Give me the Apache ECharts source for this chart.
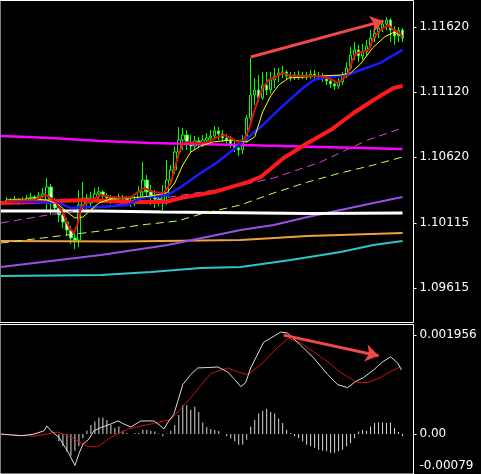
<!DOCTYPE html>
<html>
<head>
<meta charset="utf-8">
<title>EURUSD</title>
<script src="https://cdn.jsdelivr.net/npm/echarts@6/dist/echarts.min.js"></script>
<style>
  html, body { margin: 0; padding: 0; background: #000; }
  #chart { width: 481px; height: 474px; }
</style>
</head>
<body>
<div id="chart"></div>
<script>
// bars 0..99, one per candle
const open = [1.10275,1.10290,1.10282,1.10298,1.10275,1.10290,1.10305,1.10313,1.10298,1.10321,
  1.10290,1.10390,1.10267,1.10229,1.10175,1.10121,1.10059,1.09998,1.09982,1.10252,
  1.10305,1.10267,1.10305,1.10336,1.10352,1.10321,1.10305,1.10290,1.10298,1.10313,
  1.10298,1.10282,1.10267,1.10290,1.10352,1.10444,1.10352,1.10321,1.10298,1.10290,
  1.10321,1.10444,1.10521,1.10659,1.10751,1.10790,1.10736,1.10705,1.10744,1.10728,
  1.10751,1.10767,1.10782,1.10821,1.10798,1.10767,1.10751,1.10721,1.10690,1.10675,
  1.10751,1.10921,1.11097,1.11136,1.11074,1.11174,1.11136,1.11213,1.11244,1.11267,
  1.11274,1.11244,1.11236,1.11251,1.11236,1.11251,1.11236,1.11259,1.11244,1.11236,
  1.11221,1.11205,1.11182,1.11167,1.11197,1.11244,1.11305,1.11405,1.11444,1.11397,
  1.11428,1.11474,1.11536,1.11574,1.11613,1.11643,1.11674,1.11597,1.11551,1.11597];
const close = [1.10290,1.10282,1.10298,1.10275,1.10290,1.10305,1.10313,1.10298,1.10321,1.10336,
  1.10390,1.10267,1.10229,1.10175,1.10121,1.10059,1.09998,1.09982,1.10252,1.10305,
  1.10267,1.10305,1.10336,1.10352,1.10321,1.10305,1.10290,1.10298,1.10313,1.10298,
  1.10282,1.10267,1.10290,1.10352,1.10444,1.10352,1.10321,1.10298,1.10290,1.10321,
  1.10444,1.10521,1.10659,1.10751,1.10790,1.10736,1.10705,1.10744,1.10728,1.10751,
  1.10767,1.10782,1.10821,1.10798,1.10767,1.10751,1.10721,1.10690,1.10675,1.10751,
  1.10921,1.11097,1.11136,1.11074,1.11174,1.11136,1.11213,1.11244,1.11267,1.11274,
  1.11244,1.11236,1.11251,1.11236,1.11251,1.11236,1.11259,1.11244,1.11236,1.11221,
  1.11205,1.11182,1.11167,1.11197,1.11244,1.11305,1.11405,1.11444,1.11397,1.11428,
  1.11474,1.11536,1.11574,1.11613,1.11643,1.11674,1.11597,1.11551,1.11597,1.11536];
const high = [1.10313,1.10305,1.10321,1.10305,1.10313,1.10328,1.10344,1.10328,1.10352,1.10382,
  1.10459,1.10413,1.10305,1.10252,1.10213,1.10152,1.10090,1.10044,1.10367,1.10428,
  1.10336,1.10352,1.10382,1.10390,1.10367,1.10344,1.10328,1.10321,1.10336,1.10328,
  1.10321,1.10305,1.10321,1.10398,1.10582,1.10482,1.10405,1.10367,1.10336,1.10405,
  1.10598,1.10559,1.10705,1.10851,1.10844,1.10828,1.10790,1.10782,1.10775,1.10790,
  1.10805,1.10828,1.10859,1.10851,1.10828,1.10798,1.10782,1.10751,1.10728,1.10790,
  1.10944,1.11382,1.11228,1.11251,1.11274,1.11274,1.11274,1.11305,1.11305,1.11321,
  1.11290,1.11274,1.11274,1.11282,1.11274,1.11274,1.11290,1.11290,1.11274,1.11267,
  1.11251,1.11236,1.11213,1.11228,1.11274,1.11351,1.11467,1.11505,1.11482,1.11490,
  1.11520,1.11597,1.11620,1.11659,1.11674,1.11697,1.11690,1.11628,1.11620,1.11613];
const low = [1.10259,1.10267,1.10275,1.10252,1.10267,1.10282,1.10290,1.10275,1.10290,1.10305,
  1.10213,1.10175,1.10198,1.10121,1.10075,1.10013,1.09952,1.09913,1.09929,1.10198,
  1.10221,1.10244,1.10275,1.10298,1.10282,1.10275,1.10259,1.10267,1.10282,1.10267,
  1.10252,1.10236,1.10244,1.10267,1.10321,1.10305,1.10252,1.10229,1.10244,1.10213,
  1.10252,1.10405,1.10490,1.10613,1.10675,1.10675,1.10651,1.10675,1.10690,1.10698,
  1.10721,1.10736,1.10759,1.10751,1.10736,1.10713,1.10690,1.10659,1.10628,1.10644,
  1.10728,1.10890,1.11021,1.11044,1.11059,1.11097,1.11105,1.11151,1.11197,1.11228,
  1.11213,1.11205,1.11213,1.11213,1.11221,1.11213,1.11221,1.11221,1.11213,1.11197,
  1.11174,1.11151,1.11136,1.11144,1.11174,1.11228,1.11290,1.11367,1.11351,1.11367,
  1.11397,1.11459,1.11505,1.11536,1.11582,1.11597,1.11505,1.11482,1.11505,1.11505];

const priceTicks = [1.1162, 1.1112, 1.1062, 1.10115, 1.09615];
const lastPrice = 1.11538;

// moving averages, [bar, price]
const maRedThin = [[0,1.10282],[6.75,1.10290],[9.75,1.10328],[11.75,1.10290],[14,1.10190],[15.5,1.10082],
  [16.75,1.10036],[17.75,1.10113],[18.5,1.10236],[20.25,1.10275],[23.5,1.10328],[26,1.10313],[28.5,1.10305],
  [31,1.10313],[34.25,1.10382],[36.75,1.10352],[39.25,1.10344],[41,1.10421],[42.75,1.10621],[44,1.10728],
  [45.25,1.10736],[47.75,1.10728],[50.25,1.10736],[52.75,1.10775],[54.25,1.10790],[56,1.10767],[57.75,1.10736],
  [59.25,1.10751],[60.5,1.10828],[61.75,1.10959],[63,1.11074],[64,1.11151],[65.5,1.11213],[67.25,1.11236],
  [69,1.11267],[71,1.11244],[75.25,1.11244],[78.5,1.11244],[81,1.11221],[82.75,1.11190],[85.25,1.11251],
  [86.5,1.11367],[87.5,1.11420],[89,1.11428],[90.5,1.11444],[91.75,1.11536],[93.5,1.11597],[95.5,1.11636],
  [96.75,1.11597],[98,1.11582],[99,1.11544]];
const maYellow = [[0,1.10290],[6,1.10298],[10,1.10290],[13,1.10252],[15,1.10198],[17,1.10152],[19,1.10159],
  [21,1.10213],[23,1.10267],[26,1.10298],[31,1.10305],[36,1.10321],[40,1.10344],[42,1.10421],[44,1.10559],
  [46,1.10659],[48.5,1.10705],[51.5,1.10736],[56,1.10751],[60,1.10736],[62,1.10775],[64,1.10967],[66,1.11090],
  [68,1.11174],[70.5,1.11228],[78.5,1.11244],[83.5,1.11251],[86,1.11267],[88.5,1.11336],[91.5,1.11459],
  [94.5,1.11544],[97,1.11582],[99,1.11544]];
const maBlue = [[0,1.10282],[12.75,1.10267],[16,1.10229],[18.5,1.10236],[23.5,1.10236],[30.25,1.10252],
  [33.5,1.10305],[40.25,1.10328],[43.5,1.10390],[47.75,1.10482],[52.75,1.10582],[57.75,1.10705],[63.5,1.10851],
  [68.5,1.10998],[73.5,1.11136],[76.75,1.11213],[80.25,1.11236],[85.25,1.11251],[88.5,1.11290],[93.5,1.11344],
  [96,1.11390],[99,1.11444]];
const maRedThick = [[-1.5,1.10267],[6.75,1.10275],[19.25,1.10290],[31.75,1.10275],[39.75,1.10275],[43.5,1.10305],
  [51.75,1.10351],[60.25,1.10428],[63.5,1.10467],[69.25,1.10613],[75.25,1.10728],[81,1.10828],[86.75,1.10959],
  [91.75,1.11059],[96.75,1.11151],[99,1.11167]];
const maMagenta = [[-1.5,1.10782],[11,1.10767],[23.5,1.10744],[36,1.10728],[58.5,1.10713],[78.5,1.10698],[99,1.10682]];
const maPinkDash = [[-1.5,1.10113],[10.25,1.10175],[23.5,1.10236],[36,1.10290],[55.25,1.10382],[66.75,1.10459],
  [78.5,1.10582],[90.25,1.10751],[99,1.10844]];
const maLimeDash = [[-1.5,1.09959],[6.75,1.09990],[23.5,1.10052],[33.5,1.10098],[42.75,1.10129],[48.5,1.10182],
  [58.5,1.10252],[66.75,1.10344],[75.25,1.10428],[83.5,1.10498],[91.75,1.10559],[99,1.10621]];
const maWhite = [[-1.5,1.10205],[22.5,1.10205],[23,1.10198],[39,1.10198],[39.5,1.10186],[76,1.10186],[76.5,1.10190],[99,1.10190]];
const maPurple = [[-1.5,1.09775],[23.5,1.09867],[40.25,1.09944],[58.5,1.10059],[66.75,1.10098],[75.25,1.10159],
  [83.5,1.10213],[91.75,1.10267],[99,1.10313]];
const maOrange = [[-1.5,1.09975],[28.5,1.09971],[58.5,1.09982],[75.25,1.10013],[99,1.10036]];
const maCyan = [[-1.5,1.09706],[23.5,1.09713],[36,1.09736],[48.5,1.09767],[58.5,1.09775],[71,1.09829],
  [83.5,1.09890],[91.75,1.09944],[99,1.09975]];

// MACD window
const macdMain = [[-1.5,0],[3.5,-0.000033],[6.75,0],[9.25,0.000065],[10,0.00016],[11,0.000065],[13,-0.000065],
  [15.25,-0.00035],[17,-0.00062],[18,-0.00039],[19,-0.0002],[20.5,-0.0001],[21.75,0.000065],[23.5,0.00013],
  [26,0.0002],[27.75,0.00026],[29.25,0.0002],[31,0.00014],[33.5,0.00026],[36.75,0.00026],[38.5,0.00016],
  [39.25,0.0001],[40.5,0.00026],[41.75,0.00039],[42.75,0.00065],[44,0.00098],[46,0.00118],[47.75,0.00131],
  [51,0.00132],[52.75,0.00133],[55.25,0.00123],[57,0.00108],[58.5,0.00094],[59.75,0.00102],[61,0.00131],
  [64.25,0.00182],[66,0.0019],[68.5,0.00202],[70.25,0.002],[73.5,0.00176],[76.75,0.00151],[80.25,0.00118],
  [82.75,0.00098],[85.25,0.00092],[87.25,0.00104],[89.25,0.00112],[91.75,0.00127],[94,0.00143],[96,0.00153],
  [97.75,0.00141],[98.75,0.00127]];
const macdSignal = [[-1.5,0],[6.75,-0.00004],[12.75,0.00004],[16,-0.00006],[20.25,-0.00025],[22.75,-0.00025],
  [26,-0.00006],[30.25,0.0001],[36,0.0002],[41,0.00029],[45.25,0.00065],[48.5,0.00096],[51,0.0012],[55.25,0.00131],
  [57.75,0.00123],[60.25,0.00118],[63.5,0.00137],[67.75,0.00172],[70.5,0.0019],[73.5,0.0018],[76.75,0.00163],
  [80.25,0.00143],[83.5,0.00122],[87.75,0.00102],[90.25,0.00102],[93.5,0.00112],[96.75,0.00127],[98.5,0.00133]];
const osma = [0,0,0,0,0,0,0,0,0,0,
  0,0,0,-0.00014,-0.00024,-0.00035,-0.00043,-0.00033,-0.00024,-0.00008,
  0.000065,0.00018,0.00025,0.00033,0.00033,0.00028,0.00018,0.00012,0.00015,0.000065,
  0.00002,0,0.00002,0.00002,0.000085,0.000085,0.000065,0.000053,0.00001,-0.000045,
  0.00001,0.000065,0.00018,0.00038,0.00057,0.00057,0.00048,0.00054,0.00044,0.00023,
  0.00014,0.0001,0.00008,0.00006,0,-0.000045,-0.00008,-0.00014,-0.00021,-0.00021,
  -0.00011,0.00015,0.00028,0.00041,0.00046,0.0005,0.00044,0.00041,0.00031,0.00022,
  0.000085,0.00002,-0.000045,-0.00008,-0.00014,-0.00021,-0.00024,-0.00027,-0.00031,-0.00033,
  -0.00034,-0.00037,-0.00037,-0.00034,-0.00031,-0.00024,-0.00018,-0.00008,0.000053,0.000085,
  0.000065,0.00015,0.00022,0.00023,0.00023,0.00022,0.00023,0.00012,0.00004,-0.000045];
const macdTicks = [0.001956, 0, -0.00079];
const macdTickLabels = ["0.001956", "0.00", "-0.00079"];

// trend arrows drawn on the chart
const priceArrow = [[61, 1.1139], [94.25, 1.11667]];
const macdArrow = [[69.25, 0.00196], [93, 0.00155]];

const chart = echarts.init(document.getElementById("chart"));

const candles = open.map((o, i) => [i, o, close[i], low[i], high[i]]);
const barIdx = osma.map((v, i) => [i, v]);

const FONT = "DejaVu Sans";

const line = (data, color, width, type, xi) => ({
  type: "line",
  data: data,
  xAxisIndex: xi || 0,
  yAxisIndex: xi || 0,
  showSymbol: false,
  silent: true,
  z: 3,
  emphasis: { disabled: true },
  lineStyle: { color: color, width: width, type: type || "solid" },
});

const arrowMark = (pts) => ({
  silent: true,
  symbol: ["none", "arrow"],
  symbolSize: 13,
  label: { show: false },
  lineStyle: { color: "#f04848", width: 3, type: "solid" },
  emphasis: { disabled: true },
  data: [[{ coord: pts[0] }, { coord: pts[1] }]],
});

const xAx = (gi) => ({
  type: "value",
  gridIndex: gi,
  min: -1.75,
  max: 101.75,
  show: false,
  axisLine: { onZero: false },
});

const yAx = (gi, min, max, ticks, fmt, rich) => ({
  type: "value",
  gridIndex: gi,
  position: "right",
  min: min,
  max: max,
  splitLine: { show: false },
  axisLine: { show: false, onZero: false },
  axisTick: { show: true, inside: false, length: 3, customValues: ticks, lineStyle: { color: "#fff" } },
  axisLabel: {
    customValues: ticks,
    margin: 6,
    color: "#fff",
    fontFamily: FONT,
    fontSize: 12,
    formatter: fmt,
    rich: rich,
  },
});

const options = {
  backgroundColor: "#000",
  animation: false,
  grid: [
    { left: -1, right: 67.5, top: 0.5, height: 322, show: true, borderColor: "#fff", borderWidth: 1 },
    { left: -1, right: 67.5, top: 324.5, height: 151, show: true, borderColor: "#fff", borderWidth: 1 },
  ],
  xAxis: [xAx(0), xAx(1)],
  yAxis: [
    yAx(0, 1.09348, 1.11824, priceTicks, (v) => v.toFixed(5)),
    yAx(1, -0.00079, 0.00217, macdTicks, (v) => {
      const k = macdTicks.findIndex((t) => Math.abs(t - v) < 1e-9);
      const s = k >= 0 ? macdTickLabels[k] : "";
      return v < 0 ? "{low|" + s + "}" : s;
    }, { low: { color: "#fff", fontFamily: FONT, fontSize: 12, padding: [0, 0, 16, 0] } }),
  ],
  series: [
    {
      type: "candlestick",
      data: candles,
      encode: { x: 0, y: [1, 2, 3, 4] },
      xAxisIndex: 0,
      yAxisIndex: 0,
      barWidth: 3,
      silent: true,
      z: 2,
      itemStyle: {
        color: "#000",
        color0: "#ffffff",
        borderColor: "#00ff00",
        borderColor0: "#00ff00",
        borderWidth: 1,
      },
      markLine: {
        silent: true,
        symbol: ["none", "none"],
        lineStyle: { color: "#a8a8a8", width: 1, type: "solid" },
        label: {
          show: true,
          position: "end",
          distance: 2,
          formatter: lastPrice.toFixed(5),
          backgroundColor: "#fff",
          color: "#000",
          fontFamily: FONT,
          fontSize: 12,
          padding: [2, 3, 1, 3],
        },
        data: [{ yAxis: lastPrice }],
      },
    },
    line(maCyan, "#2ec4c8", 2),
    line(maOrange, "#f0a040", 2),
    line(maPurple, "#9b4fe8", 2),
    line(maWhite, "#ffffff", 3),
    line(maLimeDash, "#c8ff50", 1, [8, 5]),
    line(maPinkDash, "#e040e0", 1, [8, 5]),
    line(maMagenta, "#ff00ff", 2.5),
    line(maRedThick, "#ff1a1a", 4),
    line(maBlue, "#1a1aff", 2.5),
    line(maYellow, "#ffff00", 1),
    Object.assign(line(maRedThin, "#e01010", 2), { markLine: arrowMark(priceArrow) }),
    {
      type: "bar",
      data: barIdx,
      xAxisIndex: 1,
      yAxisIndex: 1,
      barWidth: 1,
      silent: true,
      itemStyle: { color: "#d8d8d8" },
    },
    line(macdSignal, "#d01010", 1, "solid", 1),
    Object.assign(line(macdMain, "#dcdcdc", 1, "solid", 1), { markLine: arrowMark(macdArrow) }),
  ],
};

chart.setOption(options);
</script>
</body>
</html>
